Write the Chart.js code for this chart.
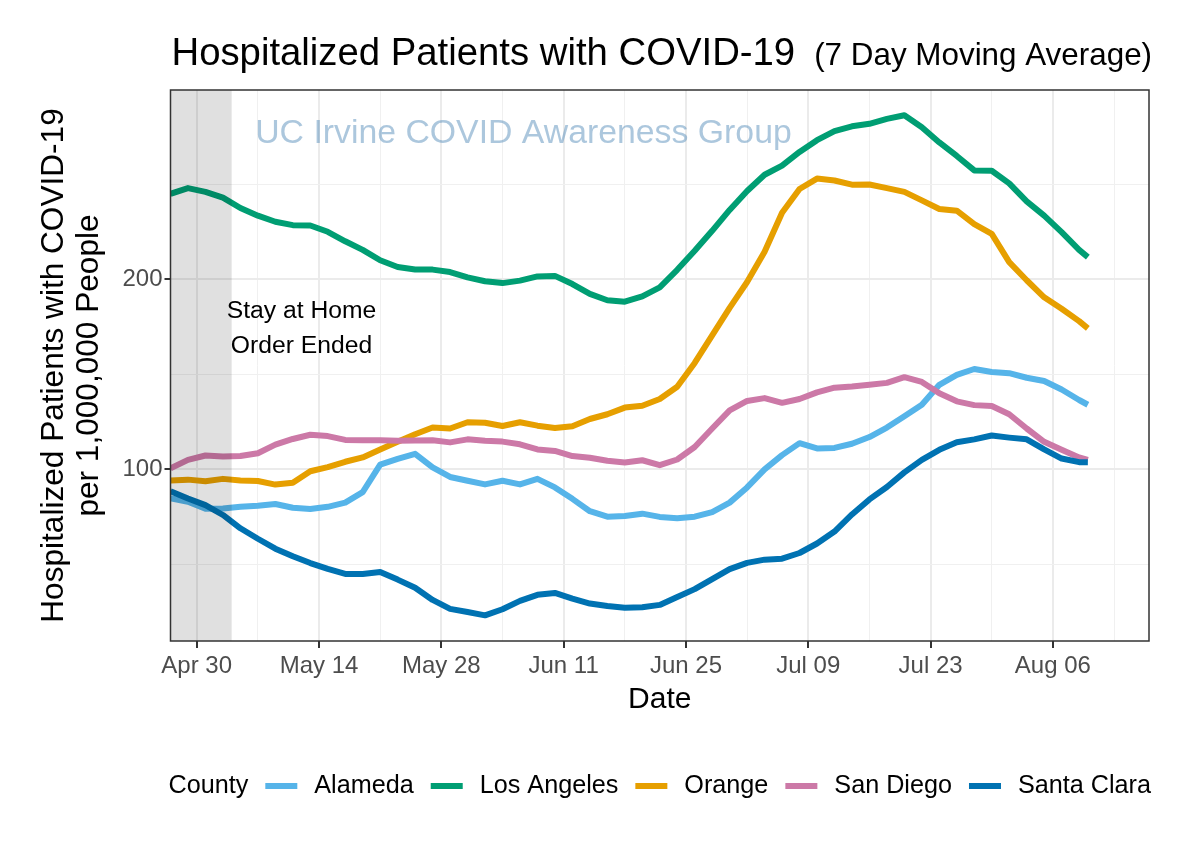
<!DOCTYPE html>
<html>
<head>
<meta charset="utf-8">
<script src="https://cdn.jsdelivr.net/npm/chart.js@4.4.1/dist/chart.umd.min.js"></script>
<style>
html,body{margin:0;padding:0;background:#fff;}
#wrap{width:1196px;height:848px;position:relative;}
</style>
</head>
<body>
<div id="wrap"><canvas id="c" width="1196" height="848"></canvas></div>
<script>
// Days since Apr 30, 2020
const dayOffsets = [-3,-1,1,3,5,7,9,11,13,15,17,19,21,23,25,27,29,31,33,35,37,39,41,43,45,47,49,51,53,55,57,59,61,63,65,67,69,71,73,75,77,79,81,83,85,87,89,91,93,95,97,99,101,102];

const alameda = [84.8,83,79.3,79.4,80.3,80.9,81.8,79.8,79.2,80.3,82.5,88,102.5,105.5,108.2,101,96,94,92.1,94,92.1,95,90.5,84.5,78,75.1,75.5,76.7,75,74.3,75.1,77.5,82.5,90.5,100,107.5,113.8,111,111.3,113.5,117,122,128,134,144.5,149.7,152.8,151.2,150.6,148.2,146.5,142,136.5,134];
const losAngeles = [245,248,246,243,237.5,233.5,230.3,228.5,228.3,225,220,215.5,210,206.5,205.2,205.1,203.8,201,199,198,199.3,201.5,201.8,197.5,192.3,189,188.2,191,195.8,205,215,225.5,236.5,246.5,255,259.8,267,273.2,278,280.5,281.8,284.4,286.3,280,272,264.9,257.3,257.1,250.5,241,233.5,224.8,215.5,211.7];
const orange = [94.2,94.6,93.8,95,94.2,93.9,92,93,99,101.2,104,106.3,110.4,114.5,118.5,122,121.5,124.8,124.5,122.8,124.8,123,121.8,122.7,126.5,129,132.5,133.5,137,143.5,156,170.5,185,198.6,214.5,235,247.5,253,252,249.8,249.9,248,246,241.5,237,236.1,229,223.9,209,199.5,190.5,184.5,178,174.2];
const sanDiego = [100.5,105,107.3,106.8,107,108.5,113,116,118.2,117.5,115.5,115.3,115.3,115,115.2,115.3,114.2,115.8,115,114.6,113.2,110.5,109.7,107,106.1,104.5,103.6,104.8,102.2,105.2,111.8,121.5,131,136,137.5,135,137,140.5,143,143.6,144.5,145.5,148.5,146,140,135.8,133.8,133.3,129,121.5,114.5,110.3,106.3,105];
const santaClara = [88.5,84.7,81.2,76,69,63.5,58.3,54.3,50.7,47.6,45,45,46,42,37.7,31.3,26.6,25,23.2,26.4,30.8,34,35,32,29.4,28.1,27.2,27.5,28.7,32.8,37,42.3,47.5,50.8,52.5,53,56,61,67.3,76.3,84.2,90.7,98.4,105,110.3,114.3,115.8,117.8,116.7,115.8,110.5,105.7,103.8,103.8];

const countyNames = ['Alameda','Los Angeles','Orange','San Diego','Santa Clara'];
const countySeries = [alameda, losAngeles, orange, sanDiego, santaClara];
const countyColors = ['#56B4E9','#009E73','#E69F00','#CC79A7','#0072B2'];

const xTickDays = [0,14,28,42,56,70,84,98];
const xTickLabels = ['Apr 30','May 14','May 28','Jun 11','Jun 25','Jul 09','Jul 23','Aug 06'];
const xMinorDays = [7,21,35,49,63,77,91,105];
const yTickValues = [100,200];
const yMinorValues = [50,150,250];

const stayHomeEnd = [-3, 4]; // shaded period (days since Apr 30)

Chart.defaults.font.family = "'Liberation Sans', Arial, Helvetica, sans-serif";

const datasets = countyNames.map((name, i) => ({
  label: name,
  data: dayOffsets.map((d, j) => ({x: d, y: countySeries[i][j]})),
  borderColor: countyColors[i],
  backgroundColor: countyColors[i],
  borderWidth: 6,
  pointRadius: 0,
  tension: 0,
  borderJoinStyle: 'round',
  fill: false,
  order: countyNames.length - i
}));

const FONT = "'Liberation Sans', Arial, Helvetica, sans-serif";

const decor = {
  id: 'decor',
  beforeDraw(chart) {
    const ctx = chart.ctx;
    ctx.save();
    ctx.fillStyle = '#ffffff';
    ctx.fillRect(0, 0, chart.width, chart.height);
    ctx.restore();
  },
  beforeDatasetsDraw(chart) {
    const {ctx, scales: {x, y}} = chart;
    ctx.save();
    ctx.font = '33.8px ' + FONT;
    ctx.fillStyle = 'rgba(70,130,180,0.45)';
    ctx.textAlign = 'center';
    ctx.textBaseline = 'middle';
    ctx.fillText('UC Irvine COVID Awareness Group', x.getPixelForValue(37.4), y.getPixelForValue(276.5));
    ctx.restore();
  },
  afterDatasetsDraw(chart) {
    const {ctx, chartArea: a, scales: {x, y}} = chart;
    ctx.save();
    const x0 = x.getPixelForValue(stayHomeEnd[0]);
    const x1 = x.getPixelForValue(stayHomeEnd[1]);
    ctx.fillStyle = 'rgba(0,0,0,0.12)';
    ctx.fillRect(x0, a.top, x1 - x0, a.bottom - a.top);
    ctx.font = '24.7px ' + FONT;
    ctx.fillStyle = '#000';
    ctx.textAlign = 'center';
    ctx.textBaseline = 'middle';
    const cx = x.getPixelForValue(12);
    const cy = y.getPixelForValue(174);
    ctx.fillText('Stay at Home', cx, cy - 17.5);
    ctx.fillText('Order Ended', cx, cy + 17.5);
    ctx.restore();
  },
  afterDraw(chart) {
    const {ctx, chartArea: a} = chart;
    ctx.save();
    // panel border
    ctx.strokeStyle = '#333333';
    ctx.lineWidth = 1.5;
    ctx.strokeRect(a.left, a.top, a.right - a.left, a.bottom - a.top);
    // title
    ctx.fillStyle = '#000';
    ctx.textBaseline = 'alphabetic';
    ctx.textAlign = 'left';
    ctx.font = '38.3px ' + FONT;
    const t1 = 'Hospitalized Patients with COVID-19';
    ctx.fillText(t1, a.left + 1, 65);
    const w1 = ctx.measureText(t1).width;
    ctx.font = '31.4px ' + FONT;
    ctx.fillText('(7 Day Moving Average)', a.left + 1 + w1 + 19, 65);
    // legend
    ctx.font = '25.2px ' + FONT;
    ctx.textBaseline = 'middle';
    const gap = 17, sw = 32;
    const titleW = ctx.measureText('County').width;
    let total = titleW;
    countyNames.forEach(n => { total += gap + sw + gap + ctx.measureText(n).width; });
    let lx = (a.left + a.right) / 2 - total / 2;
    const ly = 786;
    ctx.fillStyle = '#000';
    ctx.fillText('County', lx, ly);
    lx += titleW;
    countyNames.forEach((n, i) => {
      lx += gap;
      ctx.strokeStyle = countyColors[i];
      ctx.lineWidth = 6;
      ctx.lineCap = 'butt';
      ctx.beginPath();
      ctx.moveTo(lx, ly);
      ctx.lineTo(lx + sw, ly);
      ctx.stroke();
      lx += sw + gap;
      ctx.fillStyle = '#000';
      ctx.fillText(n, lx, ly);
      lx += ctx.measureText(n).width;
    });
    ctx.restore();
  }
};

new Chart(document.getElementById('c'), {
  type: 'line',
  data: { datasets },
  options: {
    responsive: false,
    animation: false,
    devicePixelRatio: 1,
    layout: { padding: { left: 0, right: 47, top: 90, bottom: 0 } },
    plugins: { legend: { display: false }, tooltip: { enabled: false }, title: { display: false } },
    scales: {
      x: {
        type: 'linear',
        min: -3,
        max: 109,
        afterBuildTicks(scale) {
          scale.ticks = xTickDays.concat(xMinorDays).sort((p, q) => p - q).map(v => ({value: v}));
        },
        afterFit(scale) { scale.height = 207; },
        border: { display: false },
        grid: {
          color: c => (c.tick && xTickDays.includes(c.tick.value)) ? '#EBEBEB' : '#F0F0F0',
          lineWidth: c => (c.tick && xTickDays.includes(c.tick.value)) ? 2 : 1,
          tickColor: c => (c.tick && xTickDays.includes(c.tick.value)) ? '#333333' : 'rgba(0,0,0,0)',
          tickWidth: 2,
          tickLength: 7,
          drawTicks: true
        },
        ticks: {
          autoSkip: false,
          maxRotation: 0,
          padding: 4,
          color: '#4D4D4D',
          font: { size: 24 },
          callback: v => { const i = xTickDays.indexOf(v); return i >= 0 ? xTickLabels[i] : ''; }
        },
        title: {
          display: true,
          text: 'Date',
          color: '#000',
          font: { size: 30 },
          padding: { top: 0, bottom: 130 }
        }
      },
      y: {
        type: 'linear',
        min: 9.7,
        max: 299.6,
        afterBuildTicks(scale) {
          scale.ticks = yMinorValues.concat(yTickValues).sort((p, q) => p - q).map(v => ({value: v}));
        },
        afterFit(scale) { scale.width = 170.5; },
        border: { display: false },
        grid: {
          color: c => (c.tick && yTickValues.includes(c.tick.value)) ? '#EBEBEB' : '#F0F0F0',
          lineWidth: c => (c.tick && yTickValues.includes(c.tick.value)) ? 2 : 1,
          tickColor: c => (c.tick && yTickValues.includes(c.tick.value)) ? '#333333' : 'rgba(0,0,0,0)',
          tickWidth: 2,
          tickLength: 6,
          drawTicks: true
        },
        ticks: {
          autoSkip: false,
          padding: 2,
          color: '#4D4D4D',
          font: { size: 24 },
          callback: v => yTickValues.includes(v) ? String(v) : ''
        },
        title: {
          display: true,
          text: ['Hospitalized Patients with COVID-19', 'per 1,000,000 People'],
          color: '#000',
          font: { size: 31.6, lineHeight: 1.11 },
          padding: { top: 37, bottom: 0 }
        }
      }
    }
  },
  plugins: [decor]
});
</script>
</body>
</html>
